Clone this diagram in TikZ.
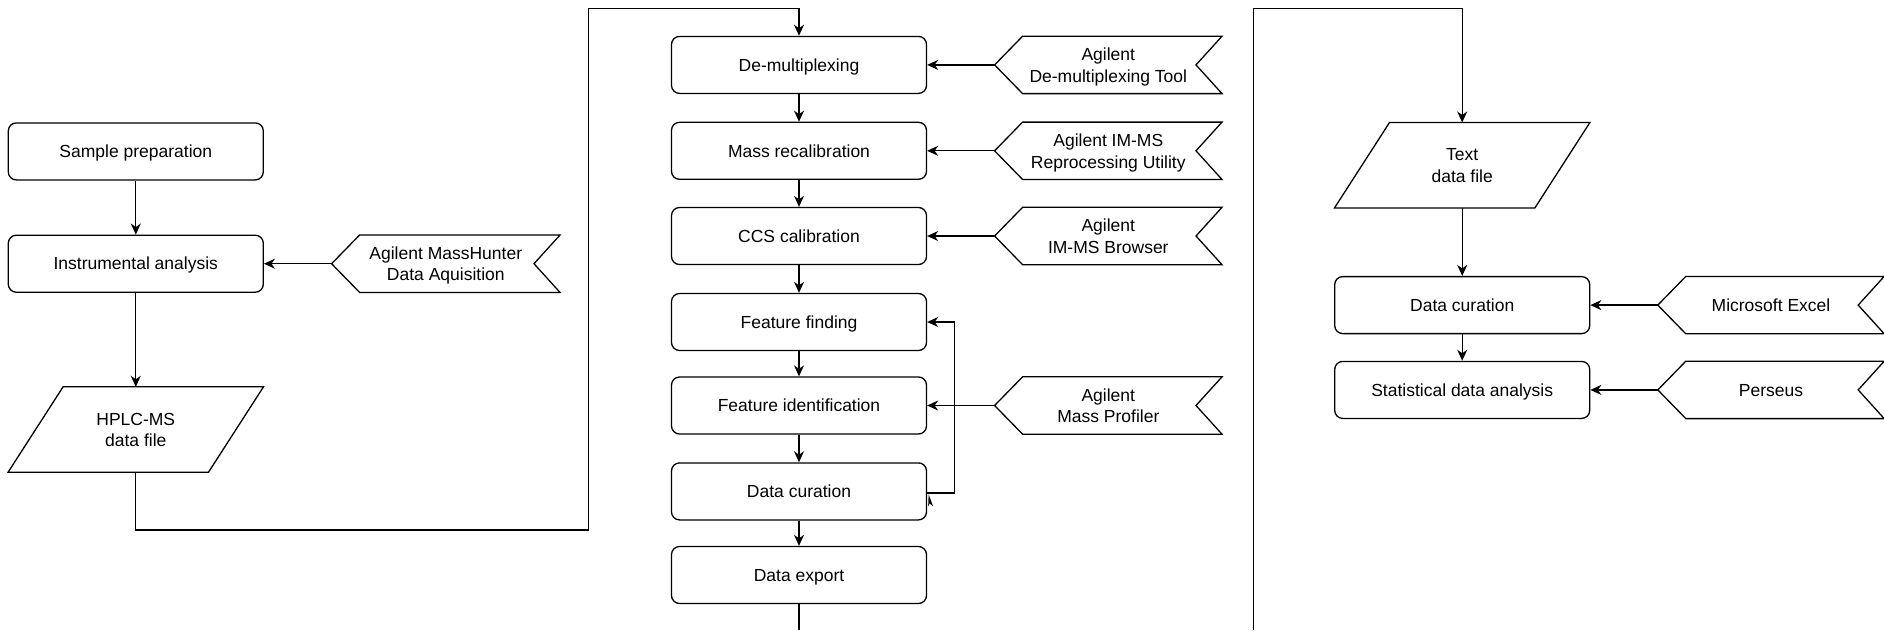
\documentclass[tikz,border=0pt]{standalone}
\usepackage{fontspec}
\setmainfont{Liberation Sans}
\usetikzlibrary{arrows.meta}
\newcommand{\mystrut}{\rule[-5pt]{0pt}{22.5pt}}
\newcommand{\twol}[2]{\raisebox{-11pt}[0pt][0pt]{\begin{tabular}[b]{@{}c@{}}#1\\#2\end{tabular}}}
\tikzset{
  every node/.style={font=\fontsize{17.5}{21.5}\selectfont, align=center, inner sep=0pt,
    execute at begin node=\mystrut, execute at end node=\mystrut},
  twolines/.style={execute at begin node={}, execute at end node={}},
  box/.style={draw, line width=1.3pt, rounded corners=8pt, minimum width=255pt, minimum height=57pt},
  chevtxt/.style={minimum width=227pt, minimum height=57pt},
  paratxt/.style={minimum width=255pt, minimum height=85pt, twolines},
  conn/.style={line width=1.3pt},
  arr/.style={conn, -{Stealth[length=11pt,width=10pt,inset=3.5pt]}},
}
\newcommand{\chevshape}[1]{%
  \draw[conn, line join=miter] (#1.west) -- ([xshift=28pt]#1.north west) -- (#1.north east)
    -- ([xshift=-26pt]#1.east) -- (#1.south east) -- ([xshift=28pt]#1.south west) -- cycle;}
\newcommand{\parashape}[1]{%
  \draw[conn, line join=miter] ([xshift=55pt]#1.north west) -- (#1.north east)
    -- ([xshift=-55pt]#1.south east) -- (#1.south west) -- cycle;}
\begin{document}
\begin{tikzpicture}[x=1pt,y=-1pt]
\useasboundingbox (0,0) rectangle (1884,630);
% left column
\node[box] (sp) at (135.8,151.4) {Sample preparation};
\node[box] (ia) at (135.8,263.7) {Instrumental analysis};
\node[paratxt] (hplc) at (135.8,429.5) {\twol{HPLC-MS}{data file}};
\parashape{hplc}
\node[chevtxt, twolines, minimum width=228pt] (mh) at (445.8,263.7) {\twol{Agilent MassHunter}{Data Aquisition}};
\chevshape{mh}
% center column
\node[box] (dm) at (799,64.9) {De-multiplexing};
\node[box] (mr) at (799,150.8) {Mass recalibration};
\node[box] (ccs) at (799,236) {CCS calibration};
\node[box] (ff) at (799,322) {Feature finding};
\node[box] (fi) at (799,405.5) {Feature identification};
\node[box] (dc) at (799,491.4) {Data curation};
\node[box] (de) at (799,575) {Data export};
\node[chevtxt, twolines] (t1) at (1108.3,64.9) {\twol{Agilent}{De-multiplexing Tool}};
\chevshape{t1}
\node[chevtxt, twolines] (t2) at (1108.3,150.8) {\twol{Agilent IM-MS}{Reprocessing Utility}};
\chevshape{t2}
\node[chevtxt, twolines] (t3) at (1108.3,236) {\twol{Agilent}{IM-MS Browser}};
\chevshape{t3}
\node[chevtxt, twolines] (t4) at (1108.3,405.5) {\twol{Agilent}{Mass Profiler}};
\chevshape{t4}
% right column
\node[paratxt] (txt) at (1462.2,165.2) {\twol{Text}{data file}};
\parashape{txt}
\node[box] (rdc) at (1462.2,305.1) {Data curation};
\node[box] (sda) at (1462.2,389.9) {Statistical data analysis};
\node[chevtxt, minimum width=226pt] (xl) at (1771,305.1) {Microsoft Excel};
\chevshape{xl}
\node[chevtxt, minimum width=226pt] (ps) at (1771,389.9) {Perseus};
\chevshape{ps}
% coordinates
\coordinate (c1) at (588.7,530);
\coordinate (c2) at (588.7,8.4);
\coordinate (e1) at (799,630);
\coordinate (b1) at (1253.2,630);
\coordinate (b2) at (1253.2,8.4);
% connectors left
\draw[arr] (sp) -- (ia);
\draw[arr] (ia) -- (hplc);
\draw[arr] (mh.west) -- (ia.east);
\draw[arr] (hplc.south) |- (c1) -- (c2) -| (dm.north);
% connectors center
\draw[arr] (dm) -- (mr);
\draw[arr] (mr) -- (ccs);
\draw[arr] (ccs) -- (ff);
\draw[arr] (ff) -- (fi);
\draw[arr] (fi) -- (dc);
\draw[arr] (dc) -- (de);
\draw[arr] (t1.west) -- (dm.east);
\draw[arr] (t2.west) -- (mr.east);
\draw[arr] (t3.west) -- (ccs.east);
\draw[arr] (t4.west) -- (fi.east);
\draw[arr] ([yshift=-1.6pt]dc.east) -- ++(27.6,0) |- (ff.east);
\fill ([xshift=1pt,yshift=-15pt]dc.east) -- ([xshift=1.5pt,yshift=-3pt]dc.east) -- ([xshift=6pt,yshift=-15pt]dc.east) -- ([xshift=2.5pt,yshift=-12pt]dc.east) -- cycle;
\draw[conn] (de.south) -- (e1);
% connectors right
\draw[arr] (b1) -- (b2) -| (txt.north);
\draw[arr] (txt) -- (rdc);
\draw[arr] (rdc) -- (sda);
\draw[arr] (xl.west) -- (rdc.east);
\draw[arr] (ps.west) -- (sda.east);
\end{tikzpicture}
\end{document}
